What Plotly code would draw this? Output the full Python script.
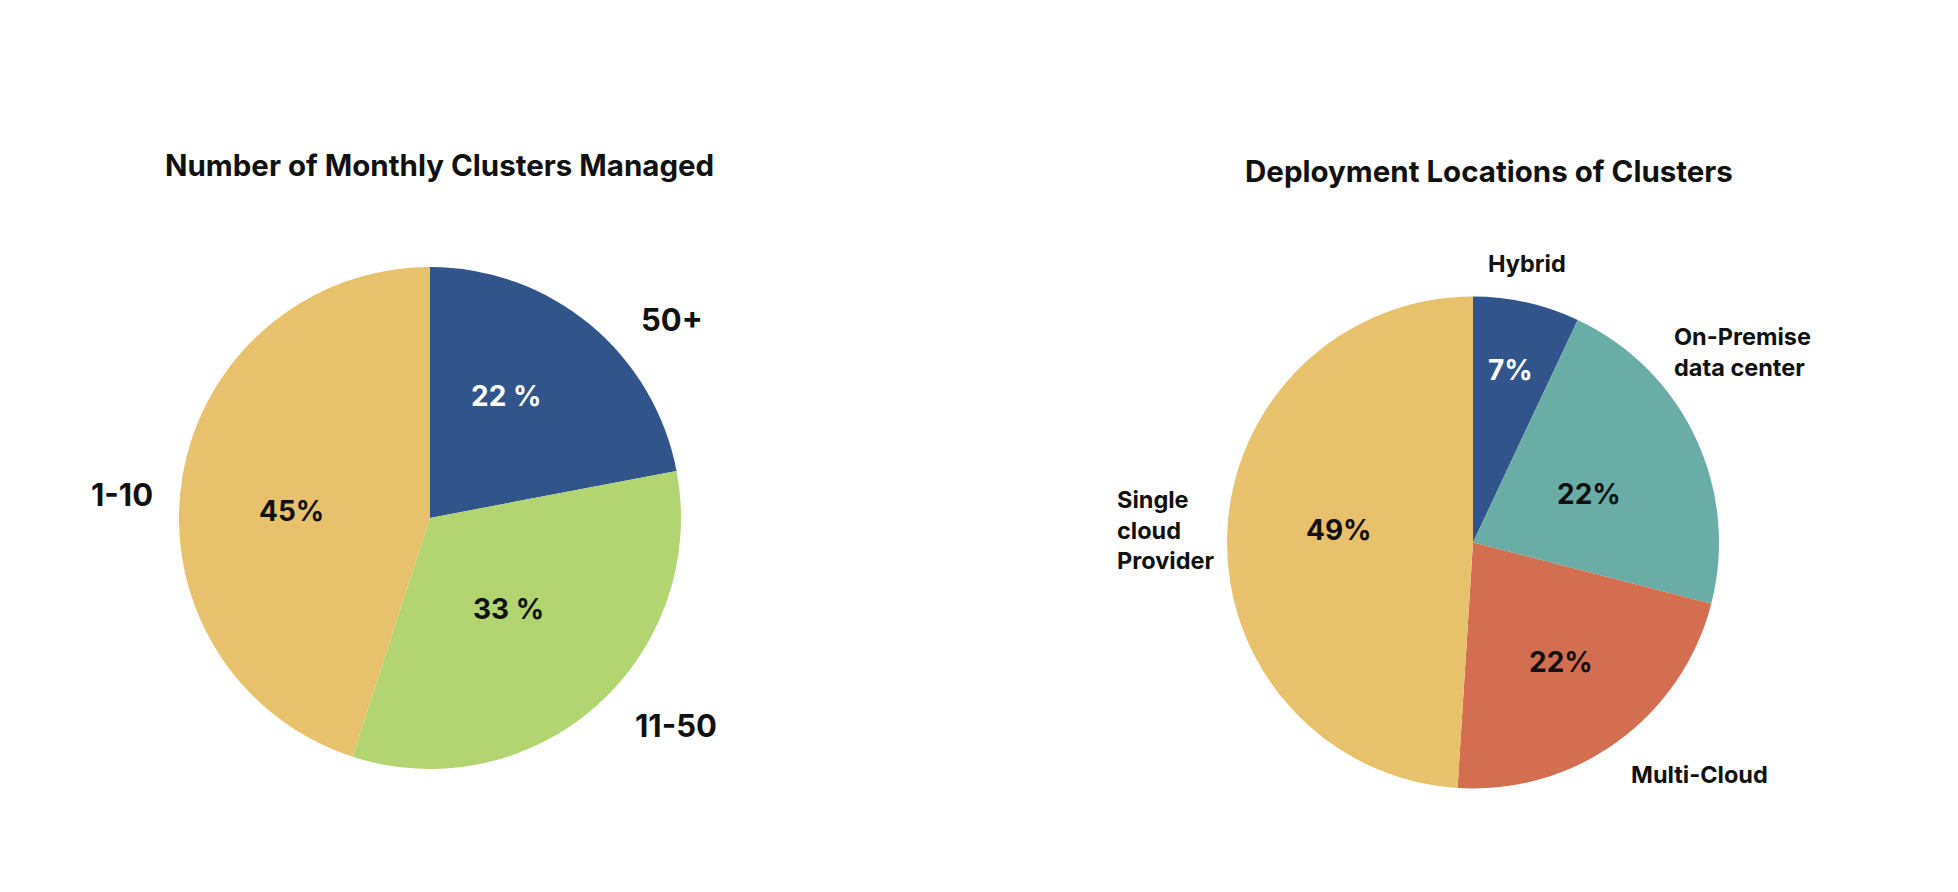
import plotly.graph_objects as go

# Data
left_title = "Number of Monthly Clusters Managed"
left_labels = ["50+", "11-50", "1-10"]
left_values = [22, 33, 45]
left_text = ["22 %", "33 %", "45%"]
left_colors = ["#31548A", "#B2D571", "#E8C16D"]
left_text_colors = ["white", "#111111", "#111111"]

right_title = "Deployment Locations of Clusters"
right_labels = ["Hybrid", "On-Premise<br>data center", "Multi-Cloud", "Single<br>cloud<br>Provider"]
right_values = [7, 22, 22, 49]
right_text = ["7%", "22%", "22%", "49%"]
right_colors = ["#31548A", "#69ADA6", "#D46E51", "#E8C16D"]
right_text_colors = ["white", "#111111", "#111111", "#111111"]

W, H = 1958, 892
FONT = "Inter"

fig = go.Figure()

fig.add_trace(go.Pie(
    labels=left_labels, values=left_values,
    textinfo="none",
    sort=False, direction="clockwise", rotation=0,
    marker=dict(colors=left_colors, line=dict(width=0)),
    domain=dict(x=[(430 - 251) / W, (430 + 251) / W], y=[(374 - 251) / H, (374 + 251) / H]),
    showlegend=False, hoverinfo="label+percent",
))

fig.add_trace(go.Pie(
    labels=right_labels, values=right_values,
    textinfo="none",
    sort=False, direction="clockwise", rotation=0,
    marker=dict(colors=right_colors, line=dict(width=0)),
    domain=dict(x=[(1473 - 246) / W, (1473 + 246) / W], y=[(349.5 - 246) / H, (349.5 + 246) / H]),
    showlegend=False, hoverinfo="label+percent",
))

def px(x):
    return x / W

def py(y):
    return 1 - y / H

annotations = [
    dict(text=left_title, x=px(439), y=py(165), size=29.5),
    dict(text=right_title, x=px(1489), y=py(171), size=29.5),
]
# category labels placed around the pies
left_label_pos = [(672, 320), (676, 725), (122, 494)]
for lab, (x, y) in zip(left_labels, left_label_pos):
    annotations.append(dict(text=lab, x=px(x), y=py(y), size=31))
right_label_pos = [(1527, 264, "center"), (1672, 352, "left"), (1699, 774, "center"), (1115, 530, "left")]
for lab, (x, y, al) in zip(right_labels, right_label_pos):
    annotations.append(dict(text=lab, x=px(x), y=py(y), size=23.5, xanchor=al, align="left"))

# percentage labels inside slices
left_pct_pos = [(506, 396), (508, 609), (291, 511)]
for t, c, (x, y) in zip(left_text, left_text_colors, left_pct_pos):
    annotations.append(dict(text=t, x=px(x), y=py(y), size=28, color=c))
right_pct_pos = [(1510, 370), (1589, 494), (1561, 662), (1339, 530)]
for t, c, (x, y) in zip(right_text, right_text_colors, right_pct_pos):
    annotations.append(dict(text=t, x=px(x), y=py(y), size=28, color=c))

for a in annotations:
    fig.add_annotation(
        text=a["text"], x=a["x"], y=a["y"], xref="paper", yref="paper",
        xanchor=a.get("xanchor", "center"), yanchor="middle", align=a.get("align", "center"),
        showarrow=False,
        font=dict(family=FONT, size=a["size"], color=a.get("color", "#111111"), weight="bold"),
    )

fig.update_layout(
    width=W, height=H,
    margin=dict(l=0, r=0, t=0, b=0),
    paper_bgcolor="white", plot_bgcolor="white",
)

fig.write_html("out.html")
